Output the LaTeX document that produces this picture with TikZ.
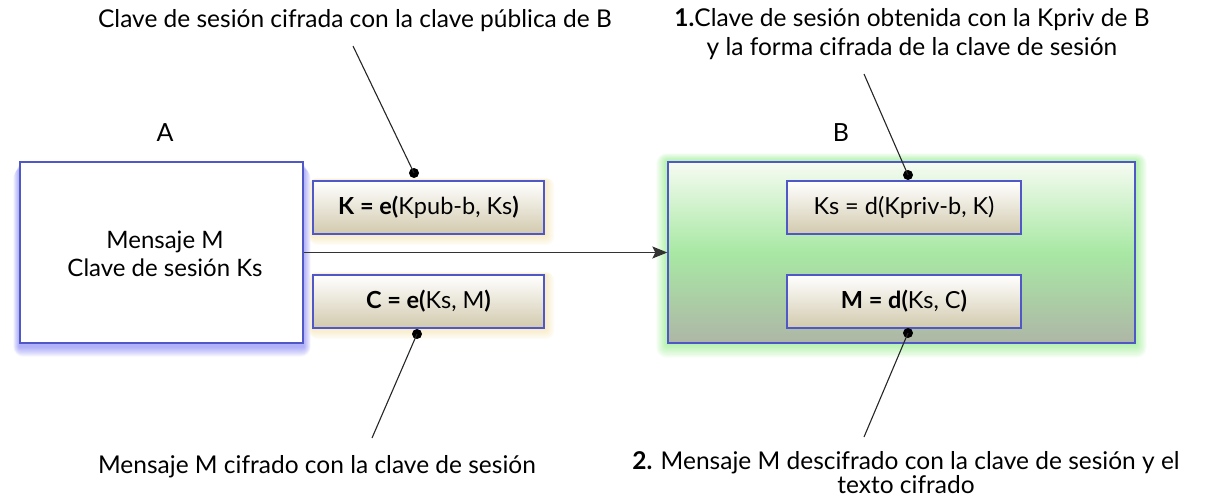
\documentclass[tikz,border=0pt]{standalone}
\usepackage{fontspec}
\setmainfont{Lato}
\usetikzlibrary{arrows.meta}
\pgfdeclarelayer{background}
\pgfsetlayers{background,main}

\definecolor{edgeblue}{HTML}{5058C8}
\definecolor{glowblue}{HTML}{4040F0}
\definecolor{glowgreen}{HTML}{50E040}
\definecolor{glowtan}{HTML}{F0D890}
\definecolor{tanbottom}{HTML}{D2CAAE}
\definecolor{greentop}{HTML}{F6FBF2}
\definecolor{greenmid}{HTML}{A8E8A4}
\definecolor{greenbot}{HTML}{AEB6A6}

\tikzset{
  x=1pt, y=-1pt,
  txt/.style={font=\fontsize{24.5}{26}\selectfont, inner sep=0pt, align=center},
  bigbox/.style={draw=edgeblue, line width=1.3pt, minimum width=283, minimum height=181, inner sep=0pt},
  calcbox/.style={draw=edgeblue, line width=1.3pt, top color=white, bottom color=tanbottom,
    minimum height=53, inner sep=0pt, font=\fontsize{23.5}{26}\selectfont},
  pin/.style={line width=1.1pt, black!85},
  pindot/.style={fill=black, circle, inner sep=0pt, minimum size=10pt},
}

\begin{document}
\begin{tikzpicture}
\useasboundingbox (0,0) rectangle (1228,498);

% sender and receiver
\node[bigbox, fill=white] (A) at (161.5,252.5) {};
\node[txt, font=\fontsize{24}{28}\selectfont] (msgA) at (165,254) {Mensaje M\\Clave de sesión Ks};
\node[txt, font=\fontsize{25}{26}\selectfont] (labA) at (165,133) {A};

\node[bigbox, minimum width=467, top color=greentop, bottom color=greenbot, middle color=greenmid] (B) at (901.5,252.5) {};
\node[txt, font=\fontsize{25}{26}\selectfont] (labB) at (841,133) {B};

% encryption side
\node[calcbox, minimum width=231] (K) at (428.5,207.5) {\textbf{K = e(}Kpub-b, Ks\textbf{)}};
\node[calcbox, minimum width=231] (C) at (428.5,301.5) {\textbf{C = e(}Ks, M\textbf{)}};

% decryption side
\node[calcbox, minimum width=234] (Ks) at (904,207.5) {Ks = d(Kpriv-b, K)};
\node[calcbox, minimum width=234] (M) at (904,301.5) {\textbf{M = d(}Ks, C\textbf{)}};

% glows
\begin{pgfonlayer}{background}
  \foreach \i in {1,...,10}{
    \fill[glowblue, opacity=0.05, rounded corners=\i pt]
      ([shift={(-\i*0.6,\i*0.4+3)}]A.north west) rectangle ([shift={(\i*0.7,\i+3)}]A.south east);
    \fill[glowgreen, opacity=0.05, rounded corners=\i pt]
      ([shift={(-\i*1.1,-\i*0.8)}]B.north west) rectangle ([shift={(\i*1.1,\i*1.4)}]B.south east);
  }
  \foreach \n in {K,C}{
    \foreach \i in {1,...,8}{
      \fill[glowtan, opacity=0.08, rounded corners=\i pt]
        ([shift={(-\i*0.4,-\i*0.3)}]\n.north west) rectangle ([shift={(\i*1.2,\i*1.3)}]\n.south east);
    }
  }
\end{pgfonlayer}

% message flow
\draw[line width=1.4pt, black!80, -{Stealth[length=15pt, width=12pt, inset=3pt]}] (A.east) -- (B.west);

% annotations
\node[txt] (nK) at (355,21) {Clave de sesión cifrada con la clave pública de B};
\node[txt] (nC) at (317,467) {Mensaje M cifrado con la clave de sesión};
\node[txt, font=\fontsize{24.5}{29}\selectfont] (nKs) at (912,34) {\textbf{1.}Clave de sesión obtenida con la Kpriv de B\\y la forma cifrada de la clave de sesión};
\node[txt, font=\fontsize{24.5}{24}\selectfont] (nM) at (906,473) {\textbf{2.} Mensaje M descifrado con la clave de sesión y el\\texto cifrado};

\coordinate (eK) at (353,46);
\coordinate (eC) at (372,438);
\coordinate (eKs) at (864,74);
\coordinate (eM) at (864,437);

\node[pindot] (dK) at (414,173) {};
\node[pindot] (dC) at (417,334) {};
\node[pindot] (dKs) at (908,175) {};
\node[pindot] (dM) at (908,333) {};

\draw[pin] (eK) -- (dK.center);
\draw[pin] (eC) -- (dC.center);
\draw[pin] (eKs) -- (dKs.center);
\draw[pin] (eM) -- (dM.center);
\end{tikzpicture}
\end{document}
